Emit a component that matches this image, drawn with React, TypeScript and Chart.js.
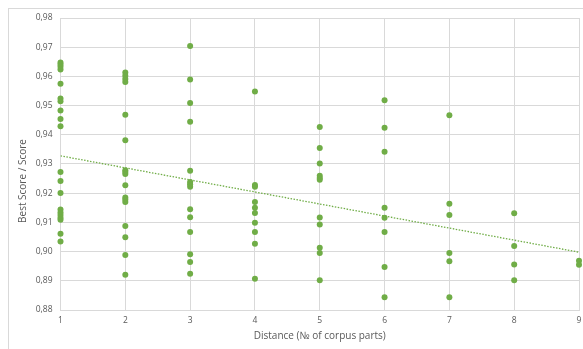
import React, { useEffect, useRef } from "react";
import { Chart, registerables } from "chart.js";

Chart.register(...registerables);

const distances = [1, 2, 3, 4, 5, 6, 7, 8, 9];
const dist1 = [0.9648, 0.9641, 0.9633, 0.9624, 0.9575, 0.9524, 0.9515, 0.9483, 0.9454, 0.9429, 0.9273, 0.9242, 0.9201, 0.9144, 0.9134, 0.9125, 0.9116, 0.9109, 0.9061, 0.9035];
const dist2 = [0.9613, 0.9602, 0.9591, 0.9581, 0.9469, 0.9381, 0.9279, 0.9273, 0.9266, 0.9227, 0.9185, 0.9178, 0.9170, 0.9088, 0.9049, 0.8988, 0.8921];
const dist3 = [0.9704, 0.9589, 0.9509, 0.9445, 0.9277, 0.9238, 0.9231, 0.9222, 0.9145, 0.9118, 0.9067, 0.8991, 0.8964, 0.8924];
const dist4 = [0.9548, 0.9228, 0.9222, 0.9170, 0.9150, 0.9132, 0.9099, 0.9067, 0.9027, 0.8907];
const dist5 = [0.9427, 0.9355, 0.9302, 0.9260, 0.9252, 0.9246, 0.9117, 0.9093, 0.9013, 0.8995, 0.8902];
const dist6 = [0.9518, 0.9424, 0.9342, 0.9150, 0.9116, 0.9067, 0.8947, 0.8844];
const dist7 = [0.9467, 0.9164, 0.9125, 0.8995, 0.8967, 0.8844];
const dist8 = [0.9131, 0.9019, 0.8956, 0.8902];
const dist9 = [0.8969, 0.8955];
const trendX = [1, 9];
const trendY = [0.9328, 0.8998];
const yTicks = [0.88, 0.89, 0.90, 0.91, 0.92, 0.93, 0.94, 0.95, 0.96, 0.97, 0.98];
const xTitle = "Distance (№ of corpus parts)";
const yTitle = "Best Score / Score";

const groups = [dist1, dist2, dist3, dist4, dist5, dist6, dist7, dist8, dist9];

const yTitlePlugin = {
  id: "yTitleOffset",
  afterDraw(chart: any) {
    const ctx = chart.ctx;
    ctx.save();
    ctx.translate(14.5, 172);
    ctx.rotate(-Math.PI / 2);
    ctx.font = '10px "Open Sans"';
    ctx.fillStyle = "#595959";
    ctx.textAlign = "center";
    ctx.textBaseline = "middle";
    ctx.fillText(yTitle, 0, 0);
    ctx.restore();
  },
};

export default function App() {
  const ref = useRef<HTMLCanvasElement | null>(null);
  useEffect(() => {
    document.documentElement.style.overflow = "hidden";
    document.body.style.overflow = "hidden";
    document.body.style.margin = "0";
    if (!ref.current) return;
    const points: { x: number; y: number }[] = [];
    groups.forEach((g, i) => g.forEach((v) => points.push({ x: distances[i], y: v })));
    const trend = trendX.map((x, i) => ({ x, y: trendY[i] }));
    const green = "#70ad47";
    const tickFont = { family: "Open Sans", size: 8.5 };
    const chart = new Chart(ref.current, {
      type: "scatter",
      data: {
        datasets: [
          {
            label: "Trend",
            data: trend,
            showLine: true,
            borderColor: green,
            borderWidth: 1.3,
            borderDash: [1.5, 1.5],
            pointRadius: 0,
            fill: false,
          },
          {
            label: "Score",
            data: points,
            backgroundColor: green,
            borderColor: green,
            pointRadius: 3,
            borderWidth: 0,
            clip: 4,
          },
        ],
      },
      plugins: [yTitlePlugin],
      options: {
        animation: false,
        responsive: false,
        layout: { padding: { left: 0, right: 3, top: 9, bottom: 0 } },
        plugins: { legend: { display: false }, tooltip: { enabled: false } },
        scales: {
          x: {
            type: "linear",
            min: 1,
            max: 9,
            ticks: { stepSize: 1, color: "#595959", font: tickFont, padding: 0 },
            grid: { color: "#d9d9d9", drawTicks: true, tickLength: 5, tickColor: "rgba(0,0,0,0)" },
            border: { color: "#d9d9d9" },
            title: {
              display: true,
              text: xTitle,
              color: "#595959",
              font: { family: "Open Sans", size: 10 },
              padding: { top: 0, bottom: 7 },
            },
            afterFit: (s: any) => {
              s.height = 39;
            },
          },
          y: {
            type: "linear",
            min: yTicks[0],
            max: yTicks[yTicks.length - 1],
            afterBuildTicks: (s: any) => {
              s.ticks = yTicks.map((v) => ({ value: v }));
            },
            ticks: {
              color: "#595959",
              font: tickFont,
              padding: 0,
              callback: (v: any) => Number(v).toFixed(2).replace(".", ","),
            },
            grid: { color: "#d9d9d9", drawTicks: true, tickLength: 8, tickColor: "rgba(0,0,0,0)" },
            border: { color: "#d9d9d9" },
            title: { display: false },
            afterFit: (s: any) => {
              s.width = 51.5;
            },
          },
        },
      },
    });
    return () => chart.destroy();
  }, []);
  return (
    <div
      style={{
        marginLeft: 8,
        marginTop: 8,
        width: 575,
        height: 341,
        borderTop: "1px solid #d9d9d9",
        borderLeft: "1px solid #d9d9d9",
        boxSizing: "border-box",
        overflow: "hidden",
      }}
    >
      <canvas ref={ref} width={574} height={340} style={{ display: "block" }} />
    </div>
  );
}
